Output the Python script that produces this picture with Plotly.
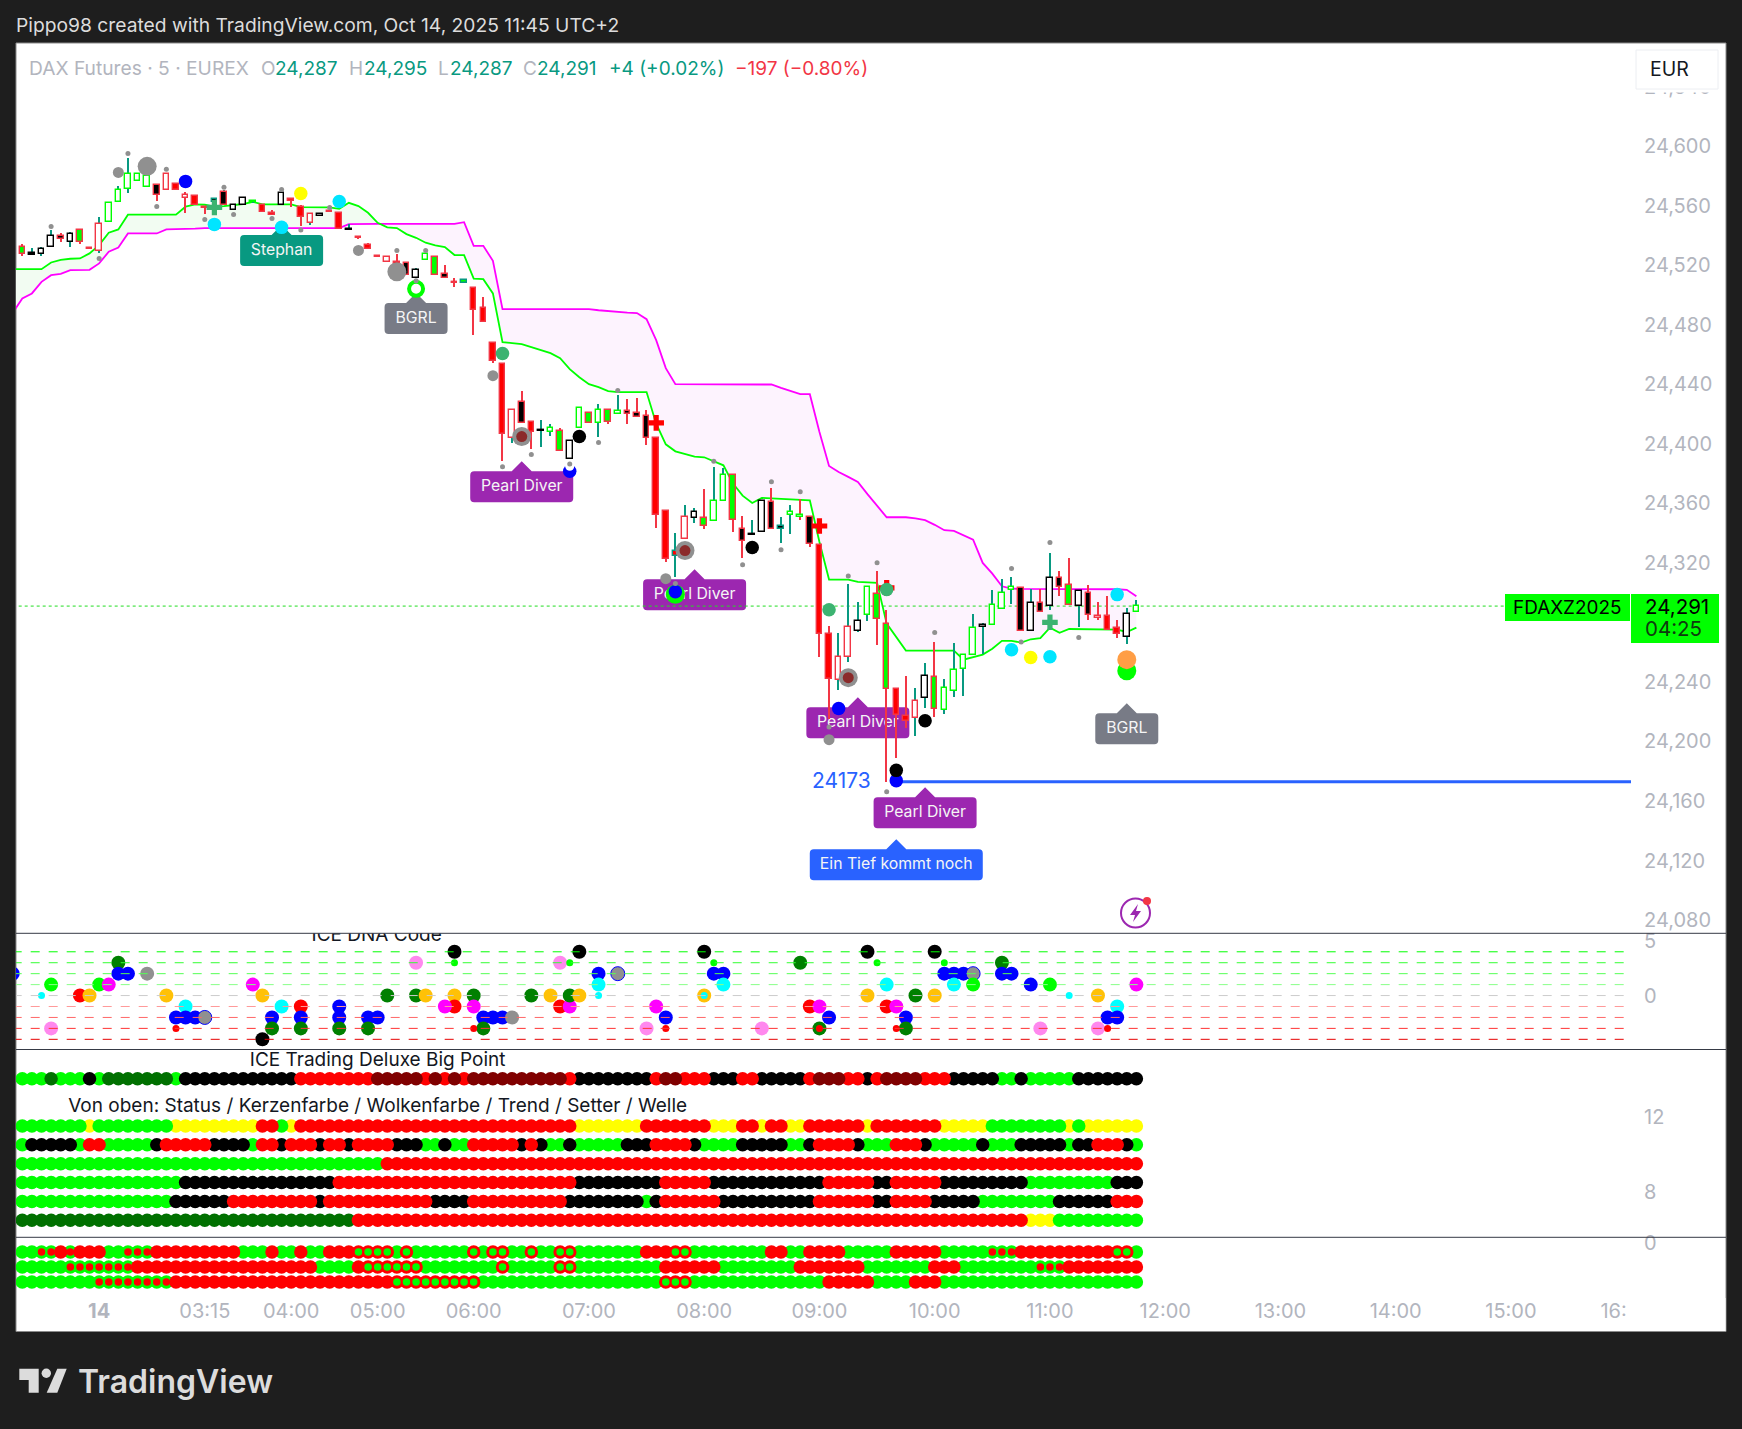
import plotly.graph_objects as go

W, H = 1742, 1429
LIME, RED, WRED, TEAL = "#00ff00", "#ff0000", "#f23645", "#089981"
UI = "Inter, Roboto, sans-serif"
GREY = "#b2b5be"

# ---------- candles (index 0..116, 5-minute bars) ----------
body_top = [24532,24528,24531.3,24539.4,24539.9,24541.2,24543.4,24531.5,24547.9,24562,
24570.8,24581.1,24581.1,24580.2,24574.2,24581.1,24574.8,24567,24566.3,24559,
24564.3,24569,24560.7,24565,24563,24560.7,24554.9,24568.3,24564.3,24558.9,
24554.2,24554.6,24556.4,24554.9,24544.3,24539.2,24533.6,24526.2,24525.7,24521.9,
24521.7,24517,24527.3,24525.7,24513.9,24509,24509.8,24504.9,24491,24467.5,
24453.6,24423,24428.2,24414.8,24409,24410.7,24408.7,24402.2,24424.4,24421,
24423,24423,24422.4,24422.2,24420.8,24418.8,24404,24355.2,24328.3,24351.1,
24354.5,24350.4,24361.9,24379.4,24379.1,24342.8,24339.3,24361.9,24361,24345,
24354.3,24352.5,24351.1,24332.3,24272.5,24256.8,24277.2,24281.2,24304.1,24299.4,
24279.2,24235.5,24217.2,24227.5,24244.3,24243.6,24236.2,24248.3,24258.2,24276.5,
24278.6,24292,24300.1,24303.9,24303.2,24293.3,24293.1,24309.9,24309.9,24305.2,
24301.2,24299.8,24284.6,24284.4,24276.3,24285.7,24291]
body_bot = [24527.3,24527.2,24527.3,24532,24537.4,24535.4,24536,24531,24529.3,24548.8,
24562.3,24571,24576.8,24572.8,24567,24570.3,24570.3,24565,24560.7,24558.4,
24562.5,24560.5,24556.9,24560.3,24562.4,24556,24554,24560.3,24563,24552.6,
24548.6,24552.9,24556,24544.1,24543.9,24538.1,24531.3,24525.8,24521.9,24521,
24513.2,24511.8,24523.3,24513.2,24511.8,24508.4,24508.3,24490.3,24482,24456,
24406.9,24404,24414.3,24408,24408.4,24408,24395.5,24389.9,24411,24414.3,
24414.3,24414.8,24420.1,24420.4,24418.4,24404.2,24352.5,24322.7,24324.9,24336.3,
24350.4,24345,24348.4,24361.9,24349.1,24335,24338.7,24341,24343,24343,
24352.5,24350.9,24333,24272.3,24242,24241.4,24256.8,24274.3,24285,24282.4,
24235.5,24218,24213.6,24216,24229.3,24222.1,24221.4,24234.2,24249,24258.2,
24277.2,24278.6,24289.3,24302.1,24274.5,24274.5,24287.3,24291.3,24304.1,24292,
24291.3,24285.3,24283,24275.2,24272.3,24270.5,24287]
bar_high = [24534,24531.6,24532.5,24543.7,24542,24542.3,24543.4,24531.5,24552.2,24562,
24573.3,24591.9,24581.1,24580.2,24574.2,24581.1,24574.8,24569,24566.3,24559,
24564.3,24570.5,24560.7,24565,24563,24560.7,24557.1,24568.3,24564.3,24560.5,
24554.2,24554.6,24556.4,24554.9,24547.5,24539.2,24534.8,24526.2,24525.7,24527.5,
24521.7,24518.1,24527.3,24525.7,24520.1,24511.2,24509.8,24504.9,24498.4,24467.5,
24453.6,24423,24435.4,24414.8,24416.3,24413.2,24411,24402.2,24424.4,24421,
24427.1,24423,24432.7,24430.5,24431.1,24422.6,24404,24355.2,24340.4,24358.7,
24356.9,24369.5,24384.3,24383.8,24379.1,24351.3,24348.7,24361.9,24370.2,24350.7,
24359.2,24363.2,24351.1,24332.3,24277.4,24273,24306.1,24293.6,24304.1,24314.4,
24288.2,24236.2,24243.8,24236.2,24253,24267.1,24241.8,24266.5,24258.2,24285.5,
24279.7,24301.6,24309.5,24310.6,24303.2,24302.3,24302.3,24327,24314.4,24323.1,
24301.2,24305.4,24293.6,24298.1,24281.5,24289.8,24295]
bar_low = [24526,24527,24526.2,24532,24535.8,24532.5,24534.3,24531,24528.4,24548.8,
24562.3,24568.8,24576.8,24572.8,24563.4,24570.3,24570.3,24555.3,24560.7,24554.4,
24562.5,24560.5,24556.9,24560.3,24562.4,24556,24554,24560.3,24559.4,24546.4,
24547,24552.9,24556,24544.1,24543.9,24538.1,24531.3,24525.8,24521.9,24521,
24513.2,24511.8,24523.3,24513.2,24511.8,24505.6,24508.3,24473.3,24482,24454.5,
24388.5,24400.6,24414.3,24396.4,24397.7,24405.4,24395.5,24389.9,24411,24414.3,
24404.7,24413.2,24420.1,24413.2,24418.4,24399.3,24343.5,24320.6,24310.6,24336.3,
24346.9,24342.8,24348.4,24361.9,24340.8,24323.3,24338.7,24341,24343,24333.4,
24339.5,24348.9,24330.7,24256.8,24215.4,24234.4,24253.5,24273.4,24281,24264.7,
24172.8,24188.9,24209.3,24203.7,24222.5,24216.5,24218.5,24229.9,24230.6,24258.2,
24259.1,24278.6,24289.3,24292.7,24274.5,24274.5,24287.3,24288.2,24297.6,24292,
24277,24281.5,24281.5,24275.2,24269.6,24265.3,24287]
# F green body/red edge, G green hollow, K black hollow, B black body/red edge,
# R red hollow, r red body, L black dash, T/U/V teal-edged black/green/red
bar_style = "FLKKBKFrRG" "GGGGBRrRrr" "TBKKGrrKrr" "RKrrLrrrRr" "BKGFBrUrrr" \
            "rRBrLGFKGF" "GFGBBBrrVR" "KFGGFBLKBT" "GGBrrRRKGF" "FrrRKFGGGG" \
            "KGGGBKBKBF" "KBRrrKG"
bar_wick = "RTTTRTRRTT" "TTTTRTRRRR" "TTTTTRRTRR" "TTRRTRRRTR" "RTTRRRTRRR" \
           "RTRRTTRTTR" "TRTRRRRRTT" "TRTTRRTTRT" "TRRRRTTTTR" "RRRTTRTTTT" \
           "TTTTRTRTRR" "TRRRRTT"

# ---------- indicator lines (index -1..116) ----------
green_line = [24517.4,24517.4,24517.4,24517.4,24521.9,24523.7,24524.4,24524.6,24528,24533.6,24541.9,
24544.1,24554,24554,24554,24554,24554,24554,24559.4,24560.9,24560.7,
24559.4,24559.8,24560.7,24561.2,24562.7,24560.9,24560.9,24560.9,24560.9,24559.1,
24558.9,24558.9,24558.9,24558,24562,24559.8,24555.3,24548.6,24545.5,24545,
24541,24538.5,24535.2,24533.4,24532.2,24526.9,24526.9,24511,24510.7,24501.1,
24468.4,24467.7,24467,24465,24463,24461,24457.6,24450.2,24444.8,24440.1,
24438.1,24435.4,24434.8,24434.8,24434.8,24434.8,24413.6,24399.7,24395,24393,
24391.5,24391,24388.5,24385.6,24373.3,24365.2,24360.3,24363.7,24363.4,24363.2,
24363,24362.8,24362.1,24334.1,24308.8,24308.8,24308.8,24307.2,24306.8,24306.6,
24279.2,24270.3,24261.1,24261.1,24261.1,24261.1,24261.1,24261.1,24255,24256.8,
24258.4,24262.4,24267.6,24267.6,24266.5,24268.7,24269.4,24276.5,24273,24275.6,
24275.6,24275.6,24275.6,24275.6,24275.2,24273.6,24276.5]
magenta_line = [24488,24497.7,24501.1,24508.9,24513.4,24514.3,24516.8,24516.8,24517,24521.3,24529.1,
24532,24541.4,24541.4,24541.4,24541.4,24544.1,24544.1,24544.1,24544.6,24545,
24545,24545,24545,24545,24545,24545,24545,24545,24545,24545,
24545,24545,24545,24545,24547.7,24547.9,24547.9,24547.9,24547.9,24547.9,
24547.9,24547.9,24547.9,24547.9,24547.9,24547.9,24549,24533.1,24533.1,24523,
24490.6,24490.6,24490.6,24490.6,24490.6,24490.6,24490.6,24490.6,24490.6,24490.6,
24489.8,24489.2,24488.8,24488.2,24487.9,24483.8,24469.7,24450.9,24440.1,24440.1,
24440.1,24440,24439.9,24439.9,24439.9,24439.9,24439.9,24439.9,24439.9,24437.6,
24435.4,24433.4,24433.4,24408,24385.2,24381.1,24377.8,24374.4,24366.2,24358.8,
24350.7,24350.7,24350.7,24350,24348.7,24345.6,24342,24341.5,24338.6,24335.7,
24320,24312.8,24304.3,24302.8,24302.5,24302.5,24302.5,24302.5,24302.5,24302.5,
24302.5,24302.5,24302.5,24302.5,24302.3,24301.9,24297.6]
last_price = 24291
line_level = 24173
cross_at = 38   # position in the two lists where the cloud changes colour

# ---------- main-pane dots ----------
sm_idx = [3,8,11,15,14,19,21,22,26,27,29,32,39,42,41,50,53,60,62,72,75,78,81,79,86,68,89,95,103,104,107,110,90,84,57]
sm_val = [24546.1,24524.6,24595.2,24584.5,24559.6,24550.8,24572.4,24554.2,24551.5,24571,24543.7,24558.9,24530,24530,24509.6,
          24384.7,24392.8,24400.9,24435.8,24388.3,24318.8,24374.6,24367.9,24328.9,24311.2,24306.1,24320.2,24273.2,24316.2,
          24266.9,24333.7,24269.8,24166.3,24209.8,24386.5]
md_idx = [10,35,49,67,84]
md_val = [24582.4,24530,24445.8,24309.4,24201.2]
lg_idx = [13,39,52,69,86]
lg_val = [24586.5,24515.7,24404.9,24328.3,24242.9]
inner_idx = [52,69,86]
inner_val = [24404.9,24328.3,24242.9]
blue_idx = [17,57,68,85,91]
blue_val = [24576.4,24381.6,24300.7,24222.1,24173.7]
cyan_idx = [20,27,33,103,107,114]
cyan_val = [24547.5,24545.5,24562.9,24261.7,24257,24298.7]
yellow_idx = [29,105]
yellow_val = [24568.3,24256.4]
black_idx = [58,76,94,91]
black_val = [24404.9,24330.3,24214,24180.6]
sea_idx = [50,84,90]
sea_val = [24460.8,24288.6,24302.1]
seaplus_idx = [20,107]
seaplus_val = [24558.9,24280.1]
redplus_idx = [66,83,90]
redplus_val = [24414.1,24344.8,24303.2]
bigl_idx = [68,115]
bigl_val = [24298.9,24247.6]
ring_idx = [41]
ring_val = [24504.2]
orange_idx = [115]
orange_val = [24255]

# ---------- tags ----------
tag_text = ["Stephan","BGRL","Pearl Diver","Pearl Diver","Pearl Diver","Pearl Diver","Ein Tief kommt noch","BGRL"]
tag_idx = [27,41,52,70,87,94,91,115]
tag_top = [24540.3,24494.6,24381.6,24309,24223,24162.5,24127.5,24219]
tag_fill = [TEAL,"#787b86","#9c27b0","#9c27b0","#9c27b0","#9c27b0","#2962ff","#787b86"]
tag_halfw = [41.5,31.5,51.5,51.5,51.5,51.5,86.5,31.5]

# ---------- ICE DNA Code pane ----------
dna_idx = [-1,2,3,3,6,7,8,9,10,10,
           11,13,15,16,16,17,17,18,19,24,
           25,25,26,26,27,29,29,29,33,33,
           33,36,36,37,38,41,41,42,45,45,
           45,45,44,47,47,47,48,48,49,50,
           51,53,55,56,57,56,57,57,58,58,
           60,60,60,62,65,66,67,67,71,72,
           72,73,73,71,71,
           77,81,82,83,83,83,84,88,89,88,
           90,90,91,91,92,92,93,95,95,96,
           96,97,98,99,97,99,102,102,103,105,
           107,109,112,114,113,114,112,113,106,116]
dna_val = [2,0,1,-3,0,0,1,1,3,2,
           2,2,0,-3,-2,-1,-2,-2,-2,1,
           0,-4,-2,-3,-1,-1,-2,-3,-1,-2,
           -3,-2,-3,-2,0,0,3,0,4,3,
           0,-1,-1,0,-1,-3,-2,-3,-2,-2,
           -2,0,0,3,3,-1,-1,0,4,0,
           2,1,0,2,-3,-1,-2,-3,4,3,
           2,2,1,0,0,
           -3,3,-1,-1,-3,-3,-2,4,3,0,
           1,-1,-1,-3,-2,-3,0,4,0,3,
           2,2,2,2,1,1,3,2,2,1,
           1,0,0,-1,-2,-2,-3,-3,-3,1]
dna_kind = "BcLPROLMDB" "BgOrBCBBhM" "OKBDCRBDBB" "DBDBDDPOKl" "ORMDMrBDBB" "gDOPlRMDKO" "BCchPMBrKl" \
           "BBCOc" "PDRMDrBKlO" "CRMrBDDKOl" "BBBhCLDBBB" "LcOCBBPrPM"
dna_level = [4,3,2,1,0,-1,-2,-3,-4]
dna_level_color = ["#00ff00","#33ff33","#55ff55","#88ff88","#cccccc","#ff9999","#ff6666","#ff3333","#e60000"]

# ---------- big point rows (run-length: colour letter + count) ----------
big_point = "G3 D1 G3 K1 G1 D7 G1 K12 R8 M5 R1 M1 R1 M1 R1 M10 R1 K8 R1 M2 R3 K3 R2 K5 R1 M3 R2 K1 R1 M4 R3 K5 G2 K1 G5 K7"
status_row = "G7 Y1 G8 Y9 R2 G1 Y1 R29 Y7 R7 Y3 R2 Y1 R2 Y2 R6 Y1 R7 Y5 G8 Y1 G1 Y6"
candle_row = "G1 K5 G1 R2 G5 K1 R5 K4 G1 R2 K1 R3 K1 R2 K1 R4 K3 G2 K1 G2 R5 K1 R1 K1 G2 K1 G5 K3 R4 K1 G4 K5 G2 K1 R4 K1 G3 R3 K1 G5 K1 G3 K5 G1 K2 R3 K1 G1"
cloud_row = "G38 R79"
trend_row = "G17 K16 R25 K9 R5 K12 R5 K2 R5 K9 G9 K3"
setter_row = "G16 K6 R9 K1 R11 K4 R10 K8 G1 K1 R6 K10 R6 K2 R4 K5 G8 K6 R3"
wave_row = "D35 R70 Y3 G9"
upper_levels = [14,11.5,10.5,9.5,8.5,7.5,6.5]

# ---------- momentum rows: G/R plain, g lime+red centre, r red+lime centre ----------
mom_row1 = "G2 g2 R1 g1 R3 G2 g3 R9 G3 R1 G2 R1 G2 R3 r4 G1 r1 G6 r1 G1 r2 G2 r1 G2 r2 G7 R3 r2 G8 R2 G2 R4 G5 R5 G5 g3 R10 r2 G1"
mom_row2 = "G5 g7 R19 G4 R1 r6 G8 r1 G5 r2 G9 R6 G8 R7 G7 R3 G8 g3 R8"
mom_row3 = "G8 g8 R23 r9 G19 r3 G14 R5 G4 R3 G21"
mom_levels = [-0.6,-1.6,-2.6]

# ---------- axes text ----------
price_ticks = [24080,24120,24160,24200,24240,24320,24360,24400,24440,24480,24520,24560,24600,24640]
time_idx = [8,19,28,37,47,59,71,83,95,107,119,131,143,155,167]
time_txt = ["<b>14</b>","03:15","04:00","05:00","06:00","07:00","08:00","09:00","10:00","11:00","12:00","13:00","14:00","15:00","16:00"]

# ---------- helpers ----------
def X(p): return p / W
def Y(p): return 1 - p / H
def decode(rle):
    out = ""
    for part in rle.split():
        out += part[0] * int(part[1:])
    return out

fig = go.Figure()
R0 = [24071.1, 24669.4]

# tag text sits below candles and dots
fig.add_trace(go.Scatter(x=tag_idx, y=[t - 10.4 for t in tag_top], mode="text", text=tag_text,
                         textfont=dict(family=UI, size=15.8, color="#f5f5f5"), textposition="middle center",
                         hoverinfo="skip", yaxis="y", xaxis="x"))

# cloud
ix = list(range(-1, 117))
fig.add_trace(go.Scatter(x=ix[:cross_at+1], y=magenta_line[:cross_at+1], mode="lines", line=dict(width=0), hoverinfo="skip"))
fig.add_trace(go.Scatter(x=ix[:cross_at+1], y=green_line[:cross_at+1], mode="lines", line=dict(width=0),
                         fill="tonexty", fillcolor="#f2fcf2", hoverinfo="skip"))
fig.add_trace(go.Scatter(x=ix[cross_at:], y=magenta_line[cross_at:], mode="lines", line=dict(width=0), hoverinfo="skip"))
fig.add_trace(go.Scatter(x=ix[cross_at:], y=green_line[cross_at:], mode="lines", line=dict(width=0),
                         fill="tonexty", fillcolor="#fdf3fe", hoverinfo="skip"))
fig.add_trace(go.Scatter(x=[-1, 168], y=[last_price, last_price], mode="lines",
                         line=dict(color="#22dd22", width=1, dash="dot"), hoverinfo="skip"))
fig.add_trace(go.Scatter(x=ix, y=magenta_line, mode="lines", line=dict(color="#ff00ff", width=1.8), hoverinfo="skip"))
fig.add_trace(go.Scatter(x=ix, y=green_line, mode="lines", line=dict(color=LIME, width=1.8), hoverinfo="skip"))

# candles
fills = dict(F=LIME, G="#ffffff", K="#ffffff", B="#000000", R="#ffffff", r=RED, L="#000000", T="#000000", U=LIME, V=RED)
edges = dict(F=WRED, G=LIME, K="#000000", B=WRED, R=WRED, r=WRED, L="#000000", T=TEAL, U=TEAL, V=TEAL)
bars = list(range(117))
fig.add_trace(go.Bar(x=bars, y=[h - l for h, l in zip(bar_high, bar_low)], base=bar_low, width=0.15,
                     marker=dict(color=[WRED if c == "R" else TEAL for c in bar_wick], line=dict(width=0)),
                     yaxis="y2", hoverinfo="skip"))
fig.add_trace(go.Bar(x=bars, y=[t - b for t, b in zip(body_top, body_bot)], base=body_bot, width=0.58,
                     marker=dict(color=[fills[s] for s in bar_style],
                                 line=dict(color=[edges[s] for s in bar_style], width=1.4)),
                     yaxis="y2", hoverinfo="skip"))

def dots(xs, ys, color, size, symbol="circle", line=None):
    fig.add_trace(go.Scatter(x=xs, y=ys, mode="markers", yaxis="y3", hoverinfo="skip",
                             marker=dict(color=color, size=size, symbol=symbol, opacity=1, line=line or dict(width=0))))

fig.add_trace(go.Scatter(x=[91, 168], y=[line_level, line_level], mode="lines", yaxis="y3",
                         line=dict(color="#2962ff", width=3), hoverinfo="skip"))
dots(bigl_idx, bigl_val, LIME, 19)
dots(ring_idx, ring_val, "#ffffff", 14, line=dict(color=LIME, width=4))
dots(lg_idx, lg_val, "#909090", 19)
dots(inner_idx, inner_val, "#8b2a2a", 11)
dots(md_idx, md_val, "#909090", 11)
dots(blue_idx, blue_val, "#0000ff", 13.5)
dots([57], [24385], "#ffffff", 9)
dots(cyan_idx, cyan_val, "#00e5ff", 13.5)
dots(yellow_idx, yellow_val, "#ffff00", 13.5)
dots(black_idx, black_val, "#000000", 13.5)
dots(redplus_idx, redplus_val, RED, 13, "cross")
dots(sea_idx, sea_val, "#3cb371", 13.5)
dots(seaplus_idx, seaplus_val, "#3cb371", 13, "cross")
dots(sm_idx, sm_val, "#909090", 5)
dots(orange_idx, orange_val, "#ff9e45", 19)

# DNA pane
kc = dict(B="#0000ff", C="#00ffff", c="#00ffff", L=LIME, l=LIME, r=RED, R=RED, O="#ffc107", M="#ff00ff",
          P="#ff88ee", D="#008000", K="#000000", g="#909090", h="#909090")
pts = sorted(zip(dna_idx, dna_val, dna_kind), key=lambda t: t[2] in "crl")
fig.add_trace(go.Scatter(x=[p[0] for p in pts], y=[p[1] for p in pts], mode="markers", yaxis="y4", hoverinfo="skip",
                         marker=dict(color=[kc[p[2]] for p in pts], size=[7 if p[2] in "crl" else 14 for p in pts], opacity=1,
                                     line=dict(color=["#0000ff" if p[2] == "h" else "rgba(0,0,0,0)" for p in pts], width=1))))
for lv, col in zip(dna_level, dna_level_color):
    fig.add_trace(go.Scatter(x=[-1, 168], y=[lv, lv], mode="lines", yaxis="y4", hoverinfo="skip",
                             line=dict(color=col, width=1, dash="dash")))
fig.add_trace(go.Scatter(x=[36.9], y=[5.41], mode="text", text=["ICE DNA Code"], yaxis="y4", hoverinfo="skip",
                         textfont=dict(family=UI, size=19, color="#131722")))

# Big point pane
rc = dict(G=LIME, R=RED, K="#000000", Y="#ffff00", D="#007000", M="#800000")
order = "YGDKRM"
rows = [big_point, status_row, candle_row, cloud_row, trend_row, setter_row, wave_row]
px, py, pc = [], [], []
for rle, lv in zip(rows, upper_levels):
    code = decode(rle)
    for c in order:
        for i, ch in enumerate(code):
            if ch == c:
                px.append(i); py.append(lv); pc.append(rc[c])
fig.add_trace(go.Scatter(x=px, y=py, mode="markers", yaxis="y5", hoverinfo="skip",
                         marker=dict(color=pc, size=13.5, opacity=1, line=dict(width=0))))
fig.add_trace(go.Scatter(x=[37, 37], y=[14.93, 12.5], mode="text", yaxis="y5", hoverinfo="skip",
                         text=["ICE Trading Deluxe Big Point", "Von oben: Status / Kerzenfarbe / Wolkenfarbe / Trend / Setter / Welle"],
                         textfont=dict(family=UI, size=19, color="#131722")))

# Momentum pane
mx, my, mc, ix2, iy2, ic2 = [], [], [], [], [], []
for rle, lv in zip([mom_row1, mom_row2, mom_row3], mom_levels):
    code = decode(rle)
    for c in "GgRr":
        for i, ch in enumerate(code):
            if ch == c:
                mx.append(i); my.append(lv); mc.append(LIME if c in "Gg" else RED)
                if c in "gr":
                    ix2.append(i); iy2.append(lv); ic2.append(RED if c == "g" else LIME)
fig.add_trace(go.Scatter(x=mx, y=my, mode="markers", yaxis="y6", hoverinfo="skip",
                         marker=dict(color=mc, size=13.5, opacity=1, line=dict(width=0))))
fig.add_trace(go.Scatter(x=ix2, y=iy2, mode="markers", yaxis="y6", hoverinfo="skip",
                         marker=dict(color=ic2, size=7.5, opacity=1, line=dict(width=0))))
fig.add_trace(go.Scatter(x=[36.7], y=[0.73], mode="text", text=["Momentum Status Indikator"], yaxis="y6", hoverinfo="skip",
                         textfont=dict(family=UI, size=19, color="#131722")))

# ---------- shapes ----------
def rect(x0, y0, x1, y1, **kw):
    return dict(type="rect", xref="paper", yref="paper", x0=X(x0), x1=X(x1), y0=Y(y0), y1=Y(y1), **kw)

def tag_path(w, h=31, r=4, p=10):
    return (f"M {-w+r},0 L {-p},0 L 0,{p} L {p},0 L {w-r},0 Q {w},0 {w},{-r} L {w},{-h+r} "
            f"Q {w},{-h} {w-r},{-h} L {-w+r},{-h} Q {-w},{-h} {-w},{-h+r} L {-w},{-r} Q {-w},0 {-w+r},0 Z")

def ppath(points):
    return "M " + " L ".join(f"{X(a)},{Y(b)}" for a, b in points) + " Z"

shapes = [rect(16, 43, 1726, 1331.5, fillcolor="#ffffff", line=dict(color="#8a8a8a", width=1), layer="below")]
for ti, tt, tc, tw in zip(tag_idx, tag_top, tag_fill, tag_halfw):
    shapes.append(dict(type="path", xref="x", yref="y", xsizemode="pixel", ysizemode="pixel", xanchor=ti, yanchor=tt,
                       path=tag_path(tw), fillcolor=tc, line=dict(width=0), layer="below"))
for yy in (933.3, 1049.5, 1237.3):
    shapes.append(dict(type="line", xref="paper", yref="paper", x0=X(16), x1=X(1726), y0=Y(yy), y1=Y(yy),
                       line=dict(color="#363a45", width=1)))
# covers the time label where the price scale starts
shapes.append(rect(1626, 1298, 1725.5, 1331, fillcolor="#ffffff", line=dict(width=0)))
# EUR button, with the strip under it that hides most of the top price label
shapes.append(rect(1636, 89, 1718, 92.5, fillcolor="#ffffff", line=dict(width=0)))
shapes.append(rect(1636, 50, 1718, 89, fillcolor="#ffffff", line=dict(color="#eceef2", width=1)))
# last-price labels
shapes.append(rect(1505, 594, 1630, 621, fillcolor=LIME, line=dict(width=0)))
shapes.append(rect(1631, 594, 1719, 643, fillcolor=LIME, line=dict(width=0)))
# logo
logo = "#dcdcdc"
shapes.append(dict(type="path", xref="paper", yref="paper", fillcolor=logo, line=dict(width=0),
                   path=ppath([(19.3,1368.7),(38.7,1368.7),(38.7,1392.7),(28.7,1392.7),(28.7,1380),(19.3,1380)])))
shapes.append(dict(type="path", xref="paper", yref="paper", fillcolor=logo, line=dict(width=0),
                   path=ppath([(57.3,1368.7),(66.7,1368.7),(57.3,1392.7),(46.7,1392.7)])))
shapes.append(dict(type="circle", xref="paper", yref="paper", x0=X(41.6), x1=X(51), y0=Y(1378), y1=Y(1368.6),
                   fillcolor=logo, line=dict(width=0)))
# alert icon
shapes.append(dict(type="circle", xref="paper", yref="paper", x0=X(1121), x1=X(1150), y0=Y(927.5), y1=Y(898.5),
                   fillcolor="#ffffff", line=dict(color="#9c27b0", width=2)))
shapes.append(dict(type="path", xref="paper", yref="paper", fillcolor="#9c27b0", line=dict(width=0),
                   path=ppath([(1138,904),(1130,915),(1135,915),(1133,922),(1141,911),(1136,911)])))
shapes.append(dict(type="circle", xref="paper", yref="paper", x0=X(1143), x1=X(1151), y0=Y(905), y1=Y(897),
                   fillcolor="#f23645", line=dict(width=0)))

# ---------- annotations ----------
def note(txt, x, y, size=19, color=GREY, anchor="left", **kw):
    return dict(text=txt, x=X(x), y=Y(y), xref="paper", yref="paper", xanchor=anchor, yanchor="middle",
                showarrow=False, font=dict(family=UI, size=size, color=color, **kw))

annotations = [
    note("Pippo98 created with TradingView.com, Oct 14, 2025 11:45 UTC+2", 14, 25.5, 19.25, "#dcdcdc"),
    note("DAX Futures · 5 · EUREX", 27, 68, 19.2, GREY),
    note("O", 259, 68), note("24,287", 273, 68, 19, TEAL),
    note("H", 347, 68), note("24,295", 362, 68, 19, TEAL),
    note("L", 436, 68), note("24,287", 448, 68, 19, TEAL),
    note("C", 521, 68), note("24,291", 535, 68, 19, TEAL),
    note("+4 (+0.02%)", 607, 68, 19, TEAL),
    note("−197 (−0.80%)", 733, 68, 19, WRED),
    note("EUR", 1669.5, 69, 19.5, "#131722", "center"),
    note("FDAXZ2025", 1567, 607, 18.9, "#000000", "center"),
    note("24,291", 1643, 606.5, 20.5, "#000000"),
    note("04:25", 1643, 628, 20.5, "#0f3a0f"),
    note("TradingView", 76, 1381, 32, "#dcdcdc", weight=600),
    dict(text="24173", x=91, y=line_level, xref="x", yref="y3", xanchor="right", yanchor="middle", xshift=-23, yshift=1,
         showarrow=False, font=dict(family=UI, size=21, color="#2962ff")),
]

def dom(top, bottom):
    return [Y(bottom), Y(top)]

tickf = dict(family=UI, size=20, color=GREY)
yright = dict(side="right", anchor="x", showgrid=False, zeroline=False, showline=False, ticks="outside", ticklen=8,
              tickcolor="rgba(0,0,0,0)", tickfont=tickf, fixedrange=True)
fig.update_layout(
    width=W, height=H, margin=dict(l=0, r=0, t=0, b=0, autoexpand=False), autosize=False,
    paper_bgcolor="#1e1e1e", plot_bgcolor="rgba(0,0,0,0)", showlegend=False, barmode="overlay", bargap=0,
    hovermode=False, shapes=shapes, annotations=annotations, font=dict(family=UI),
    xaxis=dict(domain=[X(16), X(1631)], range=[-0.656, 167.5], anchor="y6", showgrid=False, zeroline=False,
               showline=False, tickvals=time_idx, ticktext=time_txt, tickfont=tickf, ticks="", fixedrange=True),
    yaxis=dict(domain=dom(43, 933.3), range=R0, tickvals=price_ticks, ticktext=[f"{v:,}" for v in price_ticks], **yright),
    yaxis2=dict(overlaying="y", range=R0, visible=False, side="right", anchor="x"),
    yaxis3=dict(overlaying="y", range=R0, visible=False, side="right", anchor="x"),
    yaxis4=dict(domain=dom(933.3, 1049.5), range=[-4.93, 5.69], tickvals=[0, 5], ticktext=["0", "5"], **yright),
    yaxis5=dict(domain=dom(1049.5, 1237.3), range=[5.6, 15.55], tickvals=[8, 12], ticktext=["8", "12"], **yright),
    yaxis6=dict(domain=dom(1237.3, 1297), range=[-3.6, 0.38], tickvals=[0], ticktext=["0"], **yright),
)
fig.write_html("out.html", config=dict(displayModeBar=False, responsive=False),
               post_script="document.body.style.margin='0';document.body.style.overflow='hidden';")
